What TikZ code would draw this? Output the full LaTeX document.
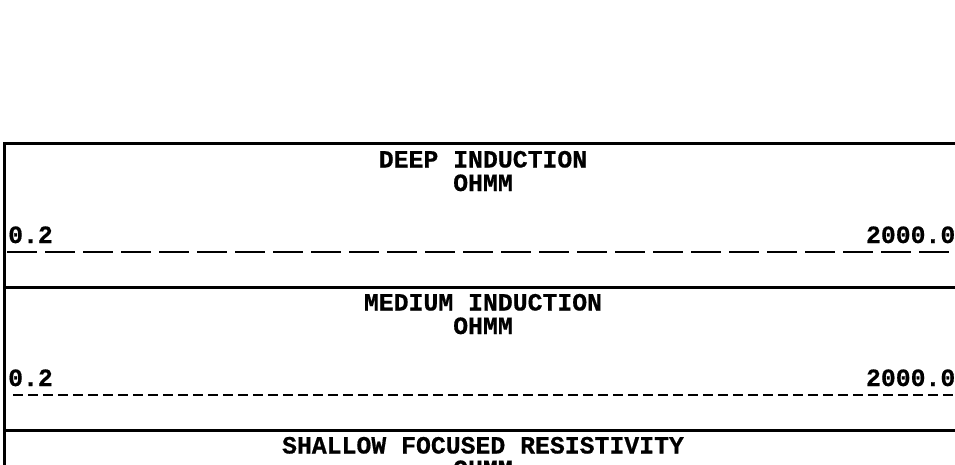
\documentclass[tikz,border=0pt]{standalone}
\usepackage{fontspec}
\newfontfamily\logfont[BoldFeatures={FakeBold=0.6}]{Liberation Mono}
\usetikzlibrary{positioning}

\begin{document}
\begin{tikzpicture}[
		x=1pt, y=-1pt,
		every node/.style={font=\logfont\bfseries\fontsize{24.8}{23.5}\selectfont, inner sep=0pt},
		title/.style={anchor=base, align=center},
		lolabel/.style={anchor=base west},
		hilabel/.style={anchor=base east},
		frame/.style={line width=3pt},
		deepscale/.style={line width=2.8pt, dash pattern=on 30pt off 8pt},
		medscale/.style={line width=2.8pt, dash pattern=on 10pt off 5pt}
		]
		
		\useasboundingbox (0,0) rectangle (955,465);
		\clip (0,0) rectangle (955,465);
		
		% Track frames
		\coordinate (corner) at (4.5,144);
		\coordinate (deepedge) at (962,144);
		\coordinate (medleft) at (4.5,287);
		\coordinate (medright) at (962,287);
		\coordinate (shalleft) at (4.5,430);
		\coordinate (shalright) at (962,430);
		\coordinate (bottom) at (4.5,475);
		
		\draw[frame] (deepedge) -- (corner) -- (bottom);
		\draw[frame] (medleft) -- (medright);
		\draw[frame] (shalleft) -- (shalright);
		
		% Deep induction track
		\node[title] (deeptitle) at (483,191) {DEEP INDUCTION\\OHMM};
		\node[lolabel] (deeplo) at (8,243) {0.2};
		\node[hilabel] (deephi) at (955.5,243) {2000.0};
		\coordinate (deepstart) at (7,252);
		\coordinate (deepend) at (962,252);
		\draw[deepscale] (deepstart) -- (deepend);
		
		% Medium induction track
		\node[title] (medtitle) at (483,334) {MEDIUM INDUCTION\\OHMM};
		\node[lolabel] (medlo) at (8,386) {0.2};
		\node[hilabel] (medhi) at (955.5,386) {2000.0};
		\coordinate (medstart) at (13,395);
		\coordinate (medend) at (962,395);
		\draw[medscale] (medstart) -- (medend);
		
		% Shallow focused track (cut off)
		\node[title] (shaltitle) at (483,477) {SHALLOW FOCUSED RESISTIVITY\\OHMM};
		
	\end{tikzpicture}
\end{document}
